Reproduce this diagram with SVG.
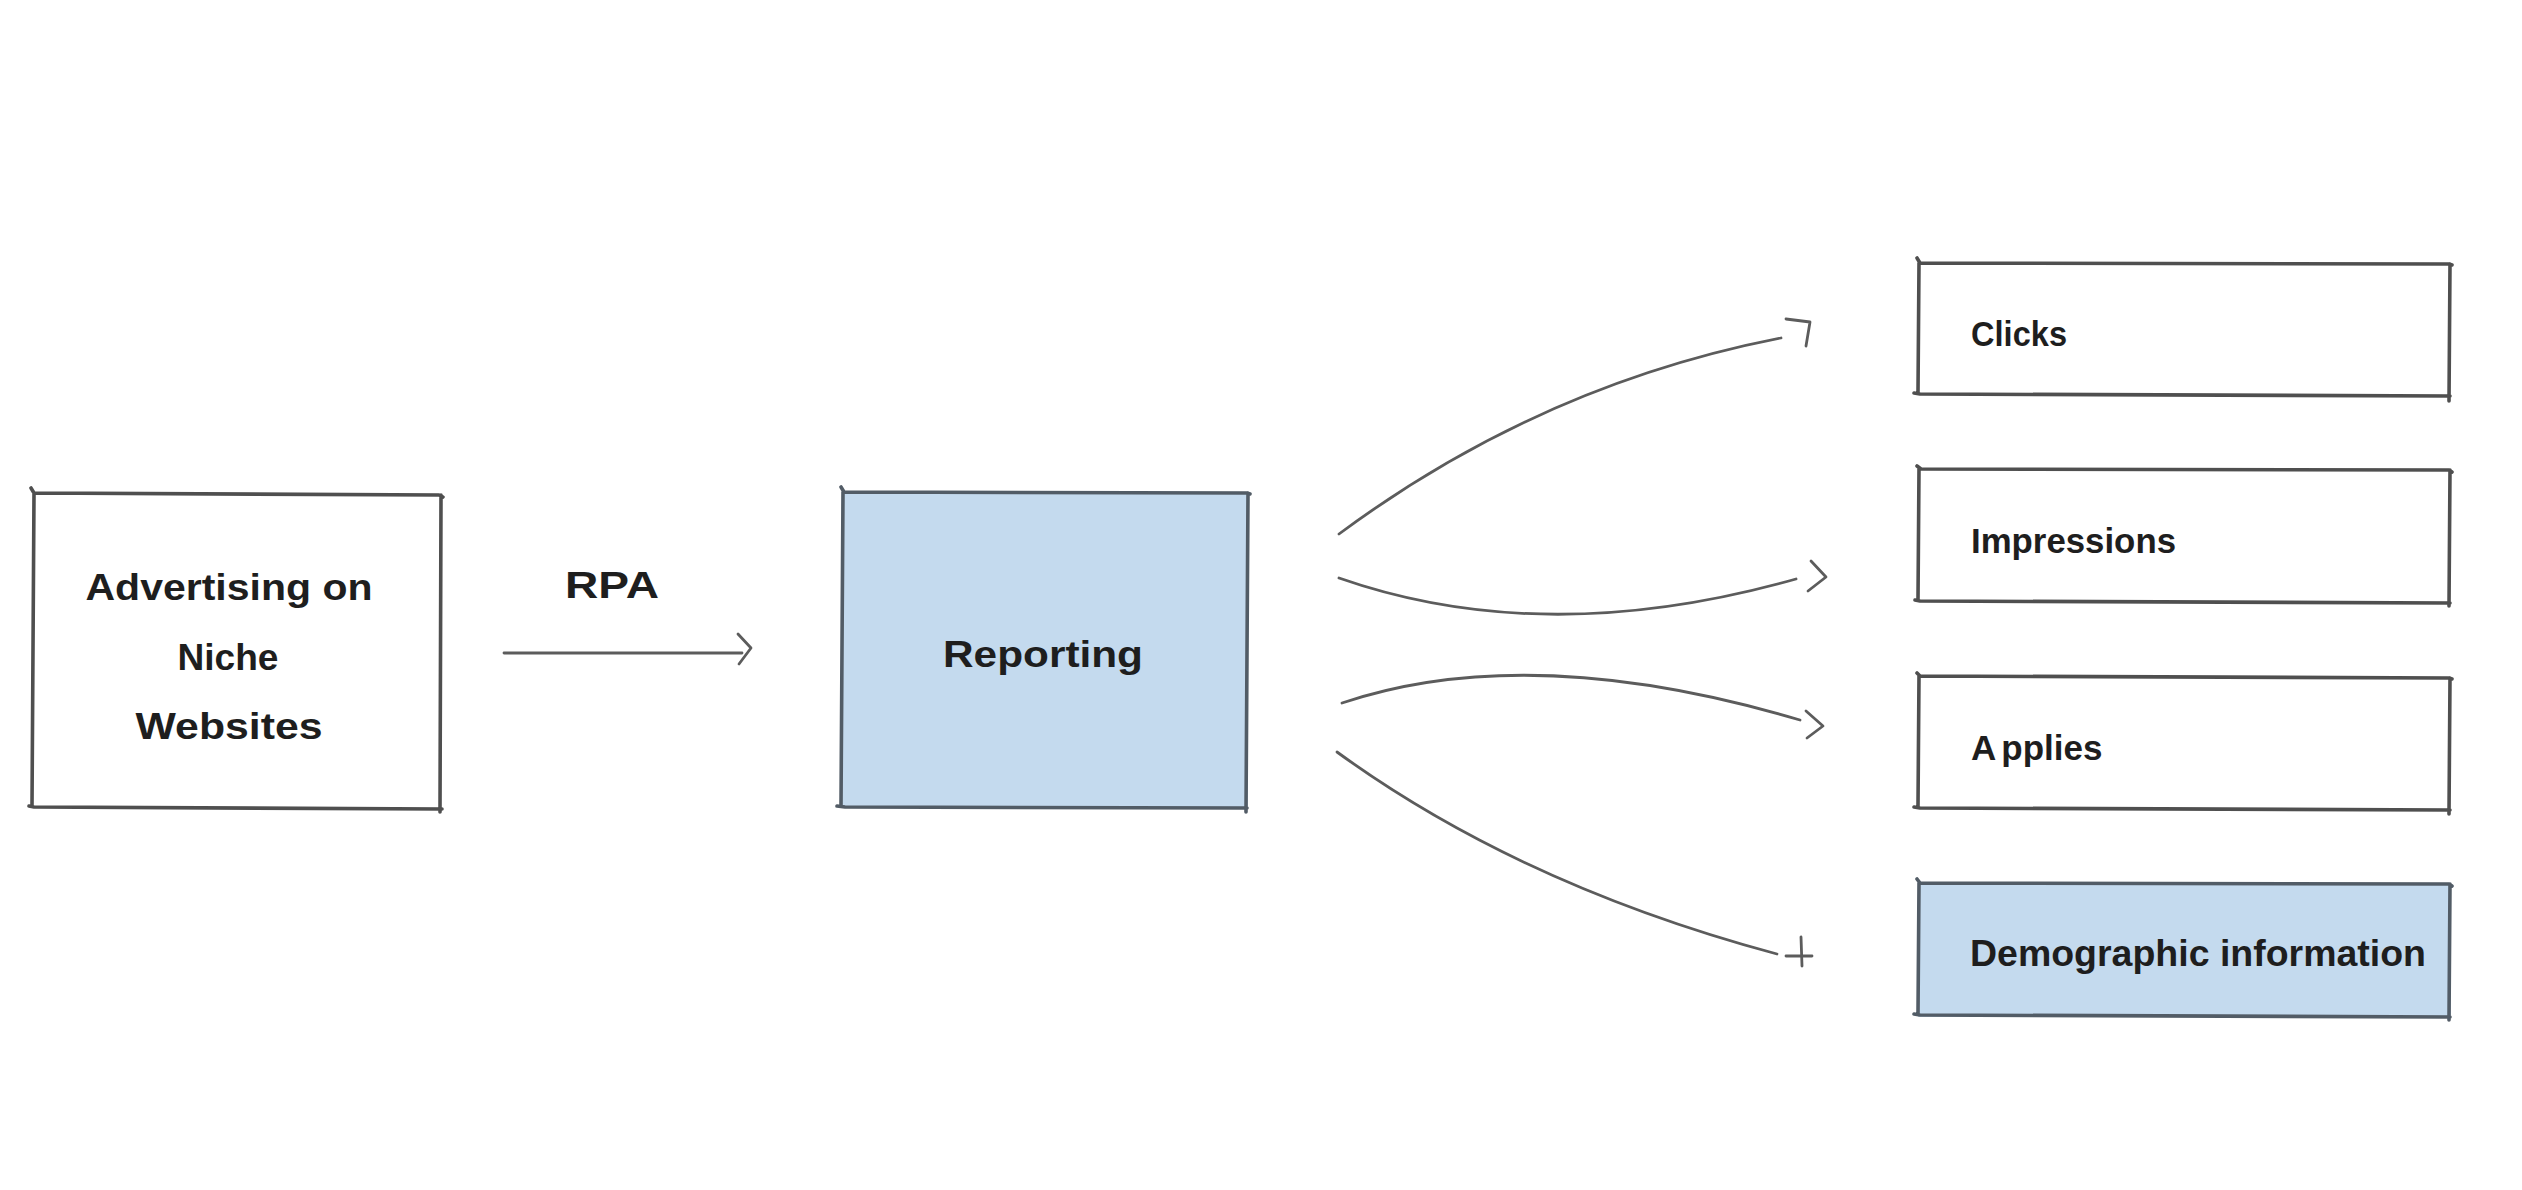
<svg xmlns="http://www.w3.org/2000/svg" width="2522" height="1190" viewBox="0 0 2522 1190">
<style>
.bg{fill:#ffffff}
.fillw{fill:#ffffff;stroke:none}
.fillb{fill:#c4daee;stroke:none}
.edge{fill:none;stroke:#4f4f4f;stroke-width:3.6;stroke-linecap:round;stroke-linejoin:round}
.edgeb{fill:none;stroke:#525c66;stroke-width:3.6;stroke-linecap:round;stroke-linejoin:round}
.conn{fill:none;stroke:#5c5c5c;stroke-width:2.8;stroke-linecap:round;stroke-linejoin:round}
.hand{font-family:"Liberation Sans","DejaVu Sans",sans-serif;font-weight:700;font-size:36px;fill:#1e1e1e}
.plain{font-family:"Liberation Sans","DejaVu Sans",sans-serif;font-weight:700;font-size:35px;fill:#1e1e1e}
</style>
<rect class="bg" x="0" y="0" width="2522" height="1190"/>

<g id="node-advertising">
<rect class="fillw" x="32" y="491" width="409" height="318"/>
<path class="edge" d="M31,488 L34,493 L439,495 L443,497 M441,495 L440,812 M442,809 L34,807 L29,806 M34,493 L32,806"/>
<text class="hand" x="229" y="600" text-anchor="middle" textLength="287" lengthAdjust="spacingAndGlyphs">Advertising on</text>
<text class="hand" x="228" y="670" text-anchor="middle" textLength="101" lengthAdjust="spacingAndGlyphs">Niche</text>
<text class="hand" x="229" y="739" text-anchor="middle" textLength="187" lengthAdjust="spacingAndGlyphs">Websites</text>
</g>

<g id="node-reporting">
<rect class="fillb" x="842" y="492" width="406" height="316"/>
<path class="edgeb" d="M841,487 L844,492 L1247,493 L1250,494 M1248,493 L1246,812 M1247,808 L845,807 L837,806 M843,492 L841,806"/>
<text class="hand" x="1043" y="667" text-anchor="middle" textLength="200" lengthAdjust="spacingAndGlyphs">Reporting</text>
</g>

<g id="node-clicks">
<rect class="fillw" x="1918" y="263" width="533" height="133"/>
<path class="edge" d="M1917,258 L1920,263 L2449,264 L2452,265 M2450,264 L2449,401 M2450,396 L1920,394 L1914,393 M1919,263 L1918,392"/>
<text class="plain" x="1971" y="346" textLength="96" lengthAdjust="spacingAndGlyphs">Clicks</text>
</g>

<g id="node-impressions">
<rect class="fillw" x="1918" y="469" width="533" height="134"/>
<path class="edge" d="M1917,466 L1921,469 L2449,470 L2452,472 M2450,470 L2449,606 M2450,603 L1920,601 L1915,600 M1919,469 L1918,599"/>
<text class="plain" x="1971" y="553" textLength="205" lengthAdjust="spacingAndGlyphs">Impressions</text>
</g>

<g id="node-applies">
<rect class="fillw" x="1918" y="676" width="533" height="133"/>
<path class="edge" d="M1917,673 L1920,676 L2449,678 L2452,679 M2450,678 L2449,814 M2450,810 L1920,808 L1914,807 M1919,676 L1918,806"/>
<text class="plain" x="1971" y="760">A<tspan dx="5">pplies</tspan></text>
</g>

<g id="node-demographic">
<rect class="fillb" x="1918" y="883" width="533" height="134"/>
<path class="edgeb" d="M1917,879 L1920,883 L2449,884 L2452,886 M2450,884 L2449,1020 M2450,1017 L1920,1015 L1914,1014 M1919,883 L1918,1013"/>
<text class="hand" x="1970" y="966" textLength="456" lengthAdjust="spacingAndGlyphs">Demographic information</text>
</g>

<g id="connectors">
<path class="conn" d="M504,653 L742,653"/>
<path class="conn" d="M738,634 L751,648 L739,664"/>
<text class="hand" x="612" y="598" text-anchor="middle" textLength="94" lengthAdjust="spacingAndGlyphs">RPA</text>

<path class="conn" d="M1339,534 Q1540,385 1781,338"/>
<path class="conn" d="M1786,319 L1810,322 L1806,346"/>

<path class="conn" d="M1339,578 Q1545,650 1796,579"/>
<path class="conn" d="M1811,561 L1826,577 L1808,591"/>

<path class="conn" d="M1342,703 Q1530,640 1800,720"/>
<path class="conn" d="M1806,711 L1823,726 L1807,738"/>

<path class="conn" d="M1337,752 Q1520,885 1777,954"/>
<path class="conn" d="M1786,956 L1812,956 M1801,937 L1802,966"/>
</g>
</svg>
